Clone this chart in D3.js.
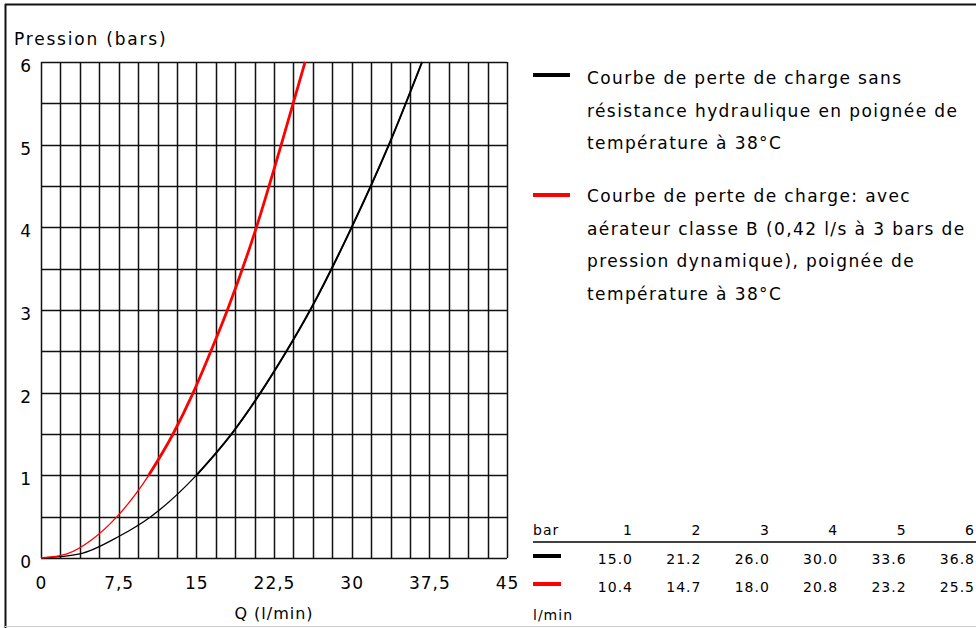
<!DOCTYPE html>
<html>
<head>
<meta charset="utf-8">
<script src="https://cdn.jsdelivr.net/npm/d3@7"></script>
<style>
  body { margin: 0; background: #fff; }
  text { font-family: "DejaVu Sans", sans-serif; fill: #000; }
</style>
</head>
<body>
<div id="chart"></div>
<script>
// curve points (flow l/min, pressure bar)
let blackFlow = [0, 3.75, 7.5, 10.6, 15.0, 18.4, 21.2, 23.7, 26.0, 30.0, 33.6, 36.8];
let blackPress = [0, 0.05, 0.26, 0.5, 1, 1.5, 2, 2.5, 3, 4, 5, 6];
let redFlow = [0, 2.5, 5.0, 7.34, 10.4, 12.75, 14.7, 16.4, 18.0, 20.8, 23.2, 25.5];
let redPress = [0, 0.05, 0.23, 0.5, 1, 1.5, 2, 2.5, 3, 4, 5, 6];

// table under the legend
let tableBars = [1, 2, 3, 4, 5, 6];
let tableBlack = ["15.0", "21.2", "26.0", "30.0", "33.6", "36.8"];
let tableRed = ["10.4", "14.7", "18.0", "20.8", "23.2", "25.5"];

let xTicks = [0, 7.5, 15, 22.5, 30, 37.5, 45];
let yTicks = [0, 1, 2, 3, 4, 5, 6];

let legendBlack = ["Courbe de perte de charge sans", "résistance hydraulique en poignée de", "température à 38°C"];
let legendRed = ["Courbe de perte de charge: avec", "aérateur classe B (0,42 l/s à 3 bars de", "pression dynamique), poignée de", "température à 38°C"];

let svg_width = 976;
let svg_height = 628;

let svg = d3.select("#chart")
  .append("svg")
  .attr("width", svg_width)
  .attr("height", svg_height);

// frame
svg.append("line").attr("x1", 5).attr("x2", 976).attr("y1", 4.5).attr("y2", 4.5)
  .attr("stroke", "#111").attr("stroke-width", 2);
svg.append("line").attr("x1", 5.5).attr("x2", 5.5).attr("y1", 4).attr("y2", 628)
  .attr("stroke", "#111").attr("stroke-width", 2);
svg.append("line").attr("x1", 5).attr("x2", 976).attr("y1", 626.5).attr("y2", 626.5)
  .attr("stroke", "#ccc").attr("stroke-width", 1);

// scales
let x = d3.scaleLinear().domain([0, 45]).range([41, 507]);
let y = d3.scaleLinear().domain([0, 6]).range([558, 62]);

// grid: 24 columns, 12 rows
let grid = svg.append("g");
grid.selectAll(".vline")
  .data(d3.range(25).map(i => i * 45 / 24))
  .enter()
  .append("line")
  .attr("x1", d => Math.round(x(d)) + 0.5)
  .attr("x2", d => Math.round(x(d)) + 0.5)
  .attr("y1", y(6))
  .attr("y2", y(0))
  .attr("stroke", "#111")
  .attr("stroke-width", 1.5);

grid.selectAll(".hline")
  .data(d3.range(13).map(i => i * 0.5))
  .enter()
  .append("line")
  .attr("x1", x(0))
  .attr("x2", x(45))
  .attr("y1", d => Math.round(y(d)) + 0.5)
  .attr("y2", d => Math.round(y(d)) + 0.5)
  .attr("stroke", "#111")
  .attr("stroke-width", 1.5);

// axis labels
let xAxis = svg.append("g")
  .attr("transform", "translate(0, 589)")
  .call(d3.axisBottom(x).tickValues(xTicks).tickSize(0).tickPadding(0)
    .tickFormat(d => String(d).replace(".", ",")));
xAxis.select(".domain").remove();
xAxis.selectAll("text")
  .attr("dy", 0)
  .attr("font-size", 17)
  .attr("letter-spacing", 1)
  .style("font-family", "DejaVu Sans");

let yAxis = svg.append("g")
  .attr("transform", "translate(31, 4)")
  .call(d3.axisLeft(y).tickValues(yTicks).tickSize(0).tickPadding(0).tickFormat(d3.format("d")));
yAxis.select(".domain").remove();
yAxis.selectAll("text")
  .attr("font-size", 17)
  .style("font-family", "DejaVu Sans");

svg.append("text")
  .attr("x", 14)
  .attr("y", 45)
  .attr("font-size", 17)
  .attr("letter-spacing", 1.8)
  .text("Pression (bars)");

svg.append("text")
  .attr("x", 274)
  .attr("y", 619)
  .attr("text-anchor", "middle")
  .attr("font-size", 16)
  .attr("letter-spacing", 1)
  .text("Q (l/min)");

// curves
let line = d3.line()
  .x(d => x(d[0]))
  .y(d => y(d[1]))
  .curve(d3.curveMonotoneX);

function drawCurve(flow, press, color, wide) {
  let pts = flow.map((f, i) => [f, press[i]]);
  svg.append("path")
    .datum(pts)
    .attr("d", line)
    .attr("fill", "none")
    .attr("stroke", color)
    .attr("stroke-width", 1.3);
  svg.append("path")
    .datum(pts.filter(d => d[1] >= 1))
    .attr("d", line)
    .attr("fill", "none")
    .attr("stroke", color)
    .attr("stroke-width", wide);
}
drawCurve(blackFlow, blackPress, "#000", 2);
drawCurve(redFlow, redPress, "#ff0000", 2.8);

// legend
let legend = svg.append("g").attr("font-size", 17).attr("letter-spacing", 1.4);
legend.append("line").attr("x1", 533).attr("x2", 570).attr("y1", 75).attr("y2", 75)
  .attr("stroke", "#000").attr("stroke-width", 4);
legend.selectAll(".lb")
  .data(legendBlack)
  .enter()
  .append("text")
  .attr("x", 587)
  .attr("y", (d, i) => 78 + i * 32.6)
  .attr("dy", "0.35em")
  .text(d => d);

legend.append("line").attr("x1", 533).attr("x2", 570).attr("y1", 195).attr("y2", 195)
  .attr("stroke", "#ff0000").attr("stroke-width", 4);
legend.selectAll(".lr")
  .data(legendRed)
  .enter()
  .append("text")
  .attr("x", 587)
  .attr("y", (d, i) => 196 + i * 32.6)
  .attr("dy", "0.35em")
  .text(d => d);

// table
let col = d3.scaleLinear().domain([1, 6]).range([633, 975]);
let table = svg.append("g").attr("font-size", 14).attr("letter-spacing", 1);

table.append("text").attr("x", 533).attr("y", 530).attr("dy", "0.35em").text("bar");
table.selectAll(".hd")
  .data(tableBars)
  .enter()
  .append("text")
  .attr("x", d => col(d))
  .attr("y", 530)
  .attr("dy", "0.35em")
  .attr("text-anchor", "end")
  .text(d => d);

table.append("line").attr("x1", 533).attr("x2", 976).attr("y1", 542).attr("y2", 542)
  .attr("stroke", "#000").attr("stroke-width", 1.5);

table.append("line").attr("x1", 533).attr("x2", 561).attr("y1", 556).attr("y2", 556)
  .attr("stroke", "#000").attr("stroke-width", 4);
table.selectAll(".rb")
  .data(tableBlack)
  .enter()
  .append("text")
  .attr("x", (d, i) => col(tableBars[i]))
  .attr("y", 559)
  .attr("dy", "0.35em")
  .attr("text-anchor", "end")
  .text(d => d);

table.append("line").attr("x1", 533).attr("x2", 561).attr("y1", 584).attr("y2", 584)
  .attr("stroke", "#ff0000").attr("stroke-width", 4);
table.selectAll(".rr")
  .data(tableRed)
  .enter()
  .append("text")
  .attr("x", (d, i) => col(tableBars[i]))
  .attr("y", 587)
  .attr("dy", "0.35em")
  .attr("text-anchor", "end")
  .text(d => d);

table.append("text").attr("x", 533).attr("y", 615).attr("dy", "0.35em").text("l/min");
</script>
</body>
</html>
